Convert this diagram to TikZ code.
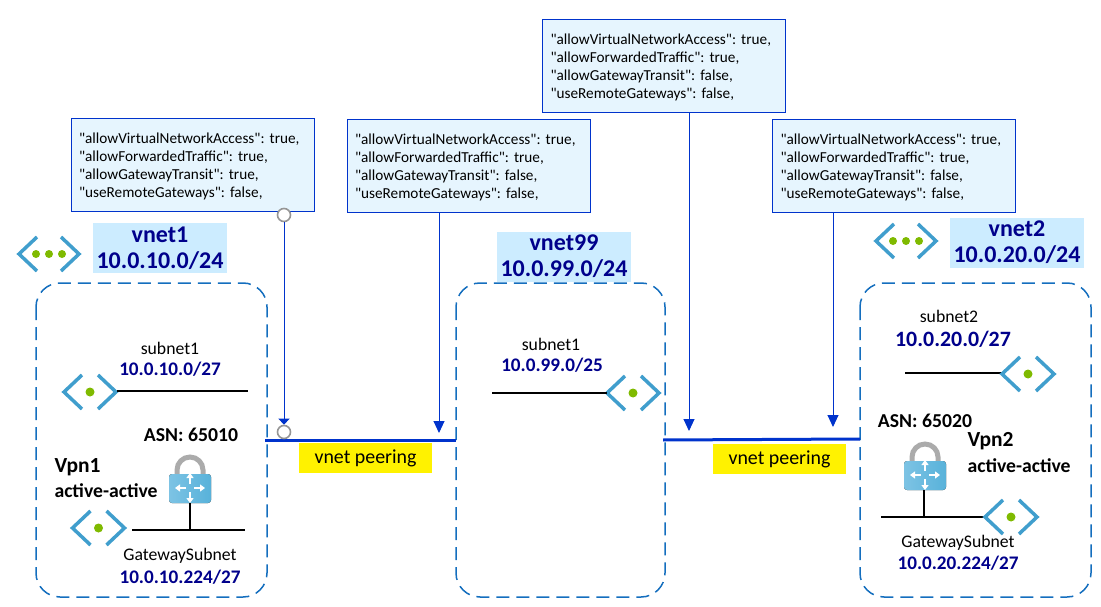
\documentclass[tikz,border=0pt]{standalone}
\usepackage{fontspec}
\setmainfont{Carlito}
\newfontfamily\boxfont{Carlito}
\usetikzlibrary{arrows.meta}

\definecolor{navytext}{RGB}{0,0,139}
\definecolor{peerblue}{RGB}{0,51,204}
\definecolor{boxfill}{RGB}{230,245,254}
\definecolor{labelfill}{RGB}{204,236,255}
\definecolor{dashblue}{RGB}{20,110,190}
\definecolor{iconblue}{RGB}{64,158,205}
\definecolor{icongreen}{RGB}{127,186,0}
\definecolor{lockblue}{RGB}{88,178,218}
\definecolor{locklight}{RGB}{125,195,228}
\definecolor{ringgray}{RGB}{150,150,150}

\newcommand{\peertext}[1]{\frenchspacing\rule{0pt}{13pt}"allowVirtualNetworkAccess": true,\\"allowForwardedTraffic": true,\\"allowGatewayTransit": #1,\\"useRemoteGateways": false,}

\tikzset{
    peerbox/.style={draw=peerblue, fill=boxfill, line width=1pt, inner xsep=8pt, inner ysep=0pt, text width=227pt,
        minimum height=93pt, align=left, font=\boxfont\fontsize{15.25}{18}\selectfont},
    vnetbox/.style={draw=dashblue, line width=1.5pt, rounded corners=24pt, dash pattern=on 13pt off 7pt},
    vnetlabel/.style={fill=labelfill, inner sep=0pt, minimum width=134pt, minimum height=50pt, align=center,
        text=navytext, font=\fontsize{24}{26}\selectfont\bfseries},
    subnetname/.style={font=\fontsize{17.7}{20}\selectfont},
    subnetaddr/.style={text=navytext, font=\fontsize{19.2}{22}\selectfont\bfseries},
    asnlabel/.style={font=\fontsize{19.7}{22}\selectfont\bfseries},
    vpnname/.style={anchor=west, font=\fontsize{21.5}{24}\selectfont\bfseries},
    vpnmode/.style={anchor=west, font=\fontsize{19.7}{22}\selectfont\bfseries},
    peerlabel/.style={fill=yellow, inner sep=0pt, minimum width=133pt, minimum height=30pt,
        font=\fontsize{19.9}{22}\selectfont},
    peerline/.style={draw=peerblue, line width=3pt},
    peerarrow/.style={draw=peerblue, line width=1pt, -{Triangle[width=11pt,length=12pt]}},
    netline/.style={draw=black, line width=1.3pt},
    ring/.style={circle, draw=ringgray, fill=white, line width=1.6pt, inner sep=0pt, minimum size=13pt},
    subnet icon/.pic={
        \draw[iconblue, line width=3.5pt] (-8,-17) -- (-26,0) -- (-8,17);
        \draw[iconblue, line width=3.5pt] (8,-17) -- (26,0) -- (8,17);
        \fill[icongreen] (0,0) circle (4.5);
    },
    vnet icon/.pic={
        \draw[iconblue, line width=3.5pt] (-12,-17) -- (-30,0) -- (-12,17);
        \draw[iconblue, line width=3.5pt] (12,-17) -- (30,0) -- (12,17);
        \fill[icongreen] (-13,0) circle (4);
        \fill[icongreen] (0,0) circle (4);
        \fill[icongreen] (13,0) circle (4);
    },
    lock icon/.pic={
        \draw[ringgray!80, line width=5pt] (-13,-12) -- (-13,-18) arc (180:360:13) -- (13,-12);
        \fill[rounded corners=3pt, left color=locklight, right color=lockblue] (-21,-14) rectangle (21,15);
        \foreach \ang in {0,90,180,270} {
            \draw[white, line width=1.8pt, -{Triangle[width=7pt,length=5pt]}, rotate=\ang] (4,0) -- (15,0);
        }
    },
}

\begin{document}
\begin{tikzpicture}[x=1pt, y=-1pt]
    \useasboundingbox (0,0) rectangle (1101,607);

    % Cajas de propiedades
    \node[peerbox] (boxa) at (192.5,165) {\peertext{true}};
    \node[peerbox] (boxb) at (468.5,166) {\peertext{false}};
    \node[peerbox] (boxc) at (664,66.5) {\peertext{false}};
    \node[peerbox] (boxd) at (894,166) {\peertext{false}};

    % Redes
    \draw[vnetbox] (36,283) rectangle (267,597);
    \draw[vnetbox] (456,283) rectangle (665,597);
    \draw[vnetbox] (860,283) rectangle (1091,597);

    \pic at (49,254) {vnet icon};
    \pic at (906,241) {vnet icon};
    \node[vnetlabel] (labela) at (160,248) {vnet1\\10.0.10.0/24};
    \node[vnetlabel] (labelb) at (564,256.5) {vnet99\\10.0.99.0/24};
    \node[vnetlabel] (labelc) at (1017,242.5) {vnet2\\10.0.20.0/24};

    % Peering
    \coordinate (peerastart) at (265,440);
    \coordinate (peeraend) at (456,440);
    \coordinate (peerbstart) at (663,440);
    \coordinate (peerbend) at (860,439);
    \draw[peerline] (peerastart) -- (peeraend);
    \draw[peerline] (peerbstart) -- (peerbend);
    \node[peerlabel] (peeringa) at (365.5,458) {vnet peering};
    \node[peerlabel] (peeringb) at (779.5,459) {vnet peering};

    % Flechas
    \coordinate (endb) at (439,433);
    \coordinate (endc) at (689,431);
    \coordinate (endd) at (833,427);
    \node[ring] (ringa) at (284,215) {};
    \node[ring] (ringb) at (284,432) {};
    \draw[peerarrow, -{Triangle[width=11pt,length=6pt]}] (ringa) -- (ringb);
    \draw[peerarrow] (boxb.south -| endb) -- (endb);
    \draw[peerarrow] (boxc.south -| endc) -- (endc);
    \draw[peerarrow] (boxd.south -| endd) -- (endd);

    % vnet1
    \node[subnetname] (subneta) at (170,348) {subnet1};
    \node[subnetaddr] (addra) at (170,369) {10.0.10.0/27};
    \pic at (90,392) {subnet icon};
    \coordinate (linea) at (117,391);
    \coordinate (lineb) at (248,391);
    \draw[netline] (linea) -- (lineb);
    \node[asnlabel] (asna) at (191,435) {ASN: 65010};
    \node[vpnname] (vpna) at (51,467) {Vpn1};
    \node[vpnmode] (activea) at (51,491) {active-active};
    \pic at (190,488) {lock icon};
    \pic at (98.5,528) {subnet icon};
    \coordinate (linec) at (132,530);
    \coordinate (lined) at (245,530);
    \coordinate (tapa) at (190,530);
    \coordinate (locka) at (190,503);
    \draw[netline] (linec) -- (lined);
    \draw[netline] (locka) -- (tapa);
    \node[subnetname] (gatewaya) at (180,556) {GatewaySubnet};
    \node[subnetaddr] (addrb) at (180,577) {10.0.10.224/27};

    % vnet99
    \node[subnetname] (subnetb) at (551,344) {subnet1};
    \node[subnetaddr] (addrc) at (552,365) {10.0.99.0/25};
    \pic at (633,393) {subnet icon};
    \coordinate (linee) at (492,393);
    \coordinate (linef) at (607,393);
    \draw[netline] (linee) -- (linef);

    % vnet2
    \node[subnetname] (subnetc) at (949,316) {subnet2};
    \node[subnetaddr, font=\fontsize{21.9}{24}\selectfont\bfseries] (addrd) at (953,339) {10.0.20.0/27};
    \coordinate (lineg) at (905,373);
    \coordinate (lineh) at (1002,373);
    \draw[netline] (lineg) -- (lineh);
    \pic at (1028,374) {subnet icon};
    \node[asnlabel] (asnb) at (925,421) {ASN: 65020};
    \node[vpnname] (vpnb) at (964,441) {Vpn2};
    \node[vpnmode] (activeb) at (964,466) {active-active};
    \pic at (925,475) {lock icon};
    \coordinate (linei) at (881,517);
    \coordinate (linej) at (985,517);
    \coordinate (tapb) at (924,517);
    \coordinate (lockb) at (924,490);
    \draw[netline] (linei) -- (linej);
    \draw[netline] (lockb) -- (tapb);
    \pic at (1011,517) {subnet icon};
    \node[subnetname] (gatewayb) at (958,543) {GatewaySubnet};
    \node[subnetaddr] (addre) at (958,563) {10.0.20.224/27};
\end{tikzpicture}
\end{document}
